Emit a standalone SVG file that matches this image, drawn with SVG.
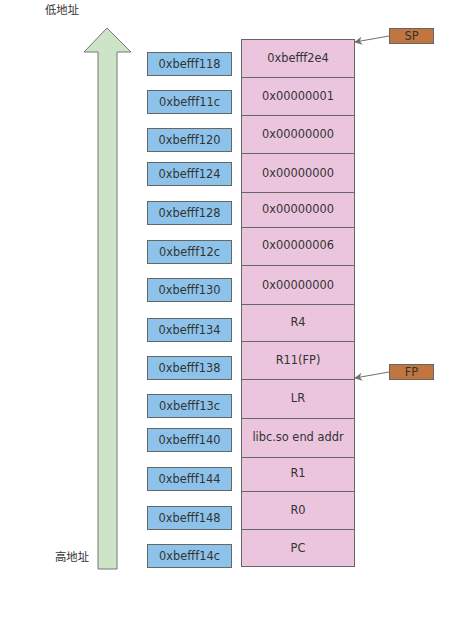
<svg xmlns="http://www.w3.org/2000/svg" width="468" height="621" viewBox="0 0 468 621">
<style>
.t{font-family:"DejaVu Sans","Noto Sans CJK SC",sans-serif;font-size:11.4px;fill:#333;text-anchor:middle;dominant-baseline:central}
.addr rect{fill:#8DC3EA;stroke:#666;stroke-width:1}
.cell rect{fill:#EBC4DD;stroke:#666;stroke-width:1}
.ptr rect{fill:#C0763E;stroke:#666;stroke-width:1}
.sh{fill:#000;opacity:0.07}
.conn{stroke:#707070;stroke-width:1;fill:none}
</style>
<defs>
<marker id="ah" viewBox="0 0 10 10" refX="9" refY="5" markerWidth="8" markerHeight="8" orient="auto" markerUnits="userSpaceOnUse">
<path d="M0,0 L10,5 L0,10 L3,5 Z" fill="#707070"/>
</marker>
</defs>
<rect width="468" height="621" fill="#fff"/>
<g id="axis">
<polygon points="107,28 131,52 117,52 117,569 98,569 98,52 84,52" fill="#CDE5C6" stroke="#777" stroke-width="1"/>
<text class="t" x="62" y="10">低地址</text>
<text class="t" x="72" y="557">高地址</text>
</g>
<g id="addresses">
<g id="a118" class="addr"><rect x="147.5" y="52.5" width="84" height="23"/><text class="t" x="189.5" y="64">0xbefff118</text></g>
<g id="a11c" class="addr"><rect x="147.5" y="90.5" width="84" height="23"/><text class="t" x="189.5" y="102">0xbefff11c</text></g>
<g id="a120" class="addr"><rect x="147.5" y="128.5" width="84" height="23"/><text class="t" x="189.5" y="140">0xbefff120</text></g>
<g id="a124" class="addr"><rect x="147.5" y="162.5" width="84" height="23"/><text class="t" x="189.5" y="174">0xbefff124</text></g>
<g id="a128" class="addr"><rect x="147.5" y="201.5" width="84" height="23"/><text class="t" x="189.5" y="213">0xbefff128</text></g>
<g id="a12c" class="addr"><rect x="147.5" y="240.5" width="84" height="23"/><text class="t" x="189.5" y="252">0xbefff12c</text></g>
<g id="a130" class="addr"><rect x="147.5" y="278.5" width="84" height="23"/><text class="t" x="189.5" y="290">0xbefff130</text></g>
<g id="a134" class="addr"><rect x="147.5" y="318.5" width="84" height="23"/><text class="t" x="189.5" y="330">0xbefff134</text></g>
<g id="a138" class="addr"><rect x="147.5" y="356.5" width="84" height="23"/><text class="t" x="189.5" y="368">0xbefff138</text></g>
<g id="a13c" class="addr"><rect x="147.5" y="394.5" width="84" height="23"/><text class="t" x="189.5" y="406">0xbefff13c</text></g>
<g id="a140" class="addr"><rect x="147.5" y="428.5" width="84" height="23"/><text class="t" x="189.5" y="440">0xbefff140</text></g>
<g id="a144" class="addr"><rect x="147.5" y="467.5" width="84" height="23"/><text class="t" x="189.5" y="479">0xbefff144</text></g>
<g id="a148" class="addr"><rect x="147.5" y="506.5" width="84" height="23"/><text class="t" x="189.5" y="518">0xbefff148</text></g>
<g id="a14c" class="addr"><rect x="147.5" y="544.5" width="84" height="23"/><text class="t" x="189.5" y="556">0xbefff14c</text></g>
</g>
<g id="stack">
<g id="c0" class="cell"><rect x="241.5" y="39.5" width="113" height="38"/><text class="t" x="298" y="58">0xbefff2e4</text></g>
<g id="c1" class="cell"><rect x="241.5" y="77.5" width="113" height="38"/><text class="t" x="298" y="96">0x00000001</text></g>
<g id="c2" class="cell"><rect x="241.5" y="115.5" width="113" height="38"/><text class="t" x="298" y="134">0x00000000</text></g>
<g id="c3" class="cell"><rect x="241.5" y="153.5" width="113" height="39"/><text class="t" x="298" y="172.5">0x00000000</text></g>
<g id="c4" class="cell"><rect x="241.5" y="192.5" width="113" height="35"/><text class="t" x="298" y="209">0x00000000</text></g>
<g id="c5" class="cell"><rect x="241.5" y="227.5" width="113" height="38"/><text class="t" x="298" y="245">0x00000006</text></g>
<g id="c6" class="cell"><rect x="241.5" y="265.5" width="113" height="39"/><text class="t" x="298" y="284.5">0x00000000</text></g>
<g id="c7" class="cell"><rect x="241.5" y="304.5" width="113" height="37"/><text class="t" x="298" y="322">R4</text></g>
<g id="c8" class="cell"><rect x="241.5" y="341.5" width="113" height="38"/><text class="t" x="298" y="360">R11(FP)</text></g>
<g id="c9" class="cell"><rect x="241.5" y="379.5" width="113" height="39"/><text class="t" x="298" y="398">LR</text></g>
<g id="c10" class="cell"><rect x="241.5" y="418.5" width="113" height="39"/><text class="t" x="298" y="437">libc.so end addr</text></g>
<g id="c11" class="cell"><rect x="241.5" y="457.5" width="113" height="34"/><text class="t" x="298" y="473">R1</text></g>
<g id="c12" class="cell"><rect x="241.5" y="491.5" width="113" height="38"/><text class="t" x="298" y="510">R0</text></g>
<g id="c13" class="cell"><rect x="241.5" y="529.5" width="113" height="37"/><text class="t" x="298" y="548">PC</text></g>
</g>
<g id="sp" class="ptr"><rect x="389.5" y="28.5" width="44" height="15"/><text class="t" x="411.5" y="36">SP</text></g>
<g id="fp" class="ptr"><rect x="389.5" y="364.5" width="44" height="15"/><text class="t" x="411.5" y="372">FP</text></g>
<g id="connectors">
<line class="conn" x1="389" y1="36" x2="355" y2="42" marker-end="url(#ah)"/>
<line class="conn" x1="389" y1="372" x2="355" y2="378" marker-end="url(#ah)"/>
</g>
</svg>
